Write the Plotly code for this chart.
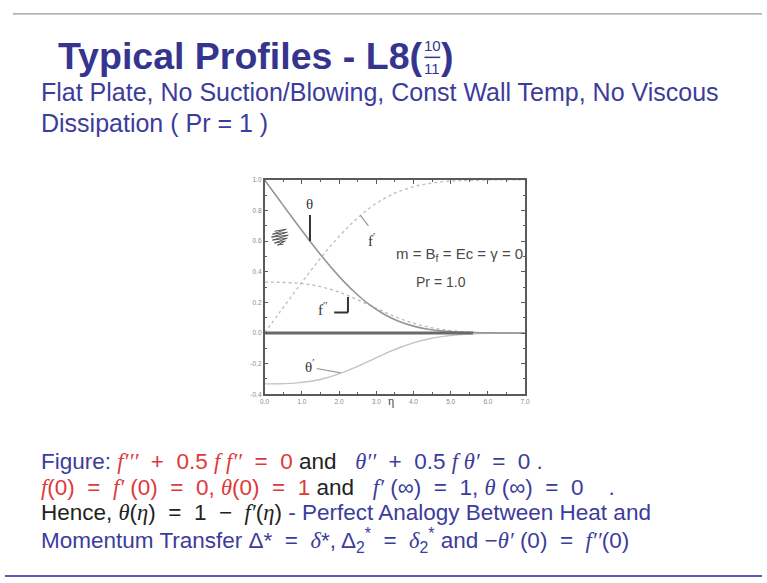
import plotly.graph_objects as go

# Similarity coordinate and the flat-plate profiles
eta = [0.0, 0.4, 0.8, 1.2, 1.6, 2.0, 2.4, 2.8, 3.2, 3.6, 4.0, 4.4, 4.8, 5.2, 5.6, 6.0, 6.4, 6.8, 7.0]
theta = [1.0, 0.867, 0.735, 0.606, 0.483, 0.370, 0.271, 0.188, 0.124, 0.077, 0.045, 0.024, 0.012, 0.006, 0.003, 0.001, 0.0, 0.0, 0.0]
f_prime = [0.0, 0.133, 0.265, 0.394, 0.517, 0.630, 0.729, 0.812, 0.876, 0.923, 0.955, 0.976, 0.988, 0.994, 0.997, 0.999, 1.0, 1.0, 1.0]
f_dprime = [0.332, 0.331, 0.327, 0.317, 0.297, 0.267, 0.228, 0.184, 0.139, 0.098, 0.064, 0.039, 0.022, 0.011, 0.005, 0.002, 0.001, 0.0, 0.0]
theta_prime = [-0.332, -0.331, -0.327, -0.317, -0.297, -0.267, -0.228, -0.184, -0.139, -0.098, -0.064, -0.039, -0.022, -0.011, -0.005, -0.002, -0.001, 0.0, 0.0]

# Zero baseline: heavy part where the curves converge, light part beyond
base_heavy_x = [0.0, 5.6]
base_light_x = [5.6, 7.0]
base_y = [0.0, 0.0]

x_ticks = [0, 1, 2, 3, 4, 5, 6, 7]
x_tick_text = ["0.0", "1.0", "2.0", "3.0", "4.0", "5.0", "6.0", "7.0"]
y_ticks = [-0.4, -0.2, 0.0, 0.2, 0.4, 0.6, 0.8, 1.0]
y_tick_text = ["-0.4", "-0.2", "0.0", "0.2", "0.4", "0.6", "0.8", "1.0"]

W, H = 767, 583
NAVY = "#35358f"
BLUE = "#3c3c9c"
RED = "#e0383a"
DARK = "#222222"

fig = go.Figure()
fig.add_trace(go.Scatter(x=base_light_x, y=base_y, mode="lines",
                         line=dict(color="#b4b4b4", width=1.6), hoverinfo="skip"))
fig.add_trace(go.Scatter(x=eta, y=f_prime, mode="lines", line_shape="spline",
                         line=dict(color="#bdbdbd", width=1.3, dash="dot")))
fig.add_trace(go.Scatter(x=eta, y=f_dprime, mode="lines", line_shape="spline",
                         line=dict(color="#b8b8b8", width=1.3, dash="dot")))
fig.add_trace(go.Scatter(x=eta, y=theta_prime, mode="lines", line_shape="spline",
                         line=dict(color="#c4c4c4", width=1.4)))
fig.add_trace(go.Scatter(x=eta, y=theta, mode="lines", line_shape="spline",
                         line=dict(color="#959595", width=1.6)))
fig.add_trace(go.Scatter(x=base_heavy_x, y=base_y, mode="lines",
                         line=dict(color="#6a6a6a", width=3), hoverinfo="skip"))

x0p, x1p = 263 / W, 527 / W
y1p, y0p = 1 - 178 / H, 1 - 395 / H

axis_common = dict(showgrid=False, zeroline=False, showline=True, linecolor="#5a5a5a",
                   linewidth=1.5, mirror="allticks", ticks="inside", ticklen=4,
                   tickcolor="#5a5a5a", tickwidth=1,
                   tickfont=dict(family="Liberation Sans", size=6.5, color="#8a8a8a"))

fig.update_layout(
    width=W, height=H, margin=dict(l=0, r=0, t=0, b=0),
    paper_bgcolor="white", plot_bgcolor="white", showlegend=False,
    xaxis=dict(domain=[x0p, x1p], range=[0, 7], tickvals=x_ticks, ticktext=x_tick_text,
               minor=dict(dtick=0.5, ticks="inside", ticklen=2.5, tickcolor="#5a5a5a"),
               **axis_common),
    yaxis=dict(domain=[y0p, y1p], range=[-0.4, 1.0], tickvals=y_ticks, ticktext=y_tick_text,
               minor=dict(dtick=0.1, ticks="inside", ticklen=2.5, tickcolor="#5a5a5a"),
               **axis_common),
)

SERIF = "Liberation Serif"
SANS = "Liberation Sans"
NB = "\u00a0"

def data_label(x, y, text, size=14, family=SERIF, color="#333", **kw):
    fig.add_annotation(x=x, y=y, xref="x", yref="y", text=text, showarrow=False,
                       font=dict(family=family, size=size, color=color), **kw)

def data_line(xa, ya, xb, yb, color="#444", width=2):
    fig.add_shape(type="line", xref="x", yref="y", x0=xa, y0=ya, x1=xb, y1=yb,
                  line=dict(color=color, width=width))

# Curve labels and pointers
data_label(1.2, 0.845, "θ", size=15)
data_line(1.22, 0.77, 1.22, 0.60, color="#333", width=2)
data_label(2.86, 0.61, "f<sup>′</sup>", size=15)
data_line(2.57, 0.77, 2.79, 0.70, color="#999", width=1.2)
data_label(1.58, 0.16, "f<sup>′′</sup>", size=15)
data_line(2.24, 0.235, 2.24, 0.134, color="#333", width=2)
data_line(1.87, 0.134, 2.24, 0.134, color="#333", width=2)
data_label(1.2, -0.215, "θ<sup>′</sup>", size=15)
data_line(1.40, -0.232, 2.04, -0.26, color="#999", width=1.2)
data_label(7.0, 0.51, "m = B<sub>f</sub> = Ec = γ = 0", size=15, family=SANS,
           color="#4a4a4a", xanchor="right")
data_label(4.75, 0.33, "Pr = 1.0", size=14, family=SANS, color="#4a4a4a")

# Small pen scribble near the θ label
fig.add_shape(type="path", xref="paper", yref="paper",
              path=" ".join(
                  (("M" if i == 0 else "L") + f" {px / W:.5f},{1 - py / H:.5f}")
                  for i, (px, py) in enumerate([(273, 230), (285, 228), (271, 233), (286, 231),
                                                 (270, 236), (287, 234), (271, 239), (286, 237),
                                                 (273, 242), (284, 240), (276, 244), (282, 243)])),
              line=dict(color="#555", width=1.0))

# Axis title
fig.add_annotation(x=391 / W, y=1 - 411 / H, xref="paper", yref="paper", text="η",
                   showarrow=False, font=dict(family=SERIF, size=12, color="#444"))

def page_text(px, py, text, size, color=BLUE, family=SANS, xanchor="left"):
    fig.add_annotation(x=px / W, y=1 - py / H, xref="paper", yref="paper", text=text,
                       showarrow=False, xanchor=xanchor, yanchor="middle", align="left",
                       font=dict(family=family, size=size, color=color))

# Slide heading
page_text(52, 53, "<b>Typical Profiles - L8(</b>", 37.5, color=NAVY)
page_text(433, 42, "10", 15, color=NAVY, xanchor="center")
page_text(433, 65, "11", 15, color=NAVY, xanchor="center")
page_text(440, 53, "<b>)</b>", 37.5, color=NAVY)
fig.add_shape(type="line", xref="paper", yref="paper", x0=425 / W, x1=441 / W,
              y0=1 - 54 / H, y1=1 - 54 / H, line=dict(color=NAVY, width=1.5))

page_text(34, 89, "Flat Plate, No Suction/Blowing, Const Wall Temp, No Viscous", 25)
page_text(34, 120, "Dissipation ( Pr = 1 )", 25)

def m(s):
    return f"<span style='font-family:{SERIF}'><i>{s}</i></span>"

def c(s, col):
    return f"<span style='color:{col}'>{s}</span>"

def op(s):
    # operator with wide math spacing
    return NB * 2 + s + NB * 2

P1, P2, P3 = "′", "′′", "′′′"

line1 = (c("Figure: ", BLUE)
         + c(m("f" + P3) + op("+") + "0.5" + NB + m("f" + NB + "f" + P2) + op("=") + "0", RED)
         + c(" and" + NB * 3, DARK)
         + c(m("θ" + P2) + op("+") + "0.5" + NB + m("f" + NB + "θ" + P1) + op("=") + "0" + NB + ".", BLUE))
line2 = (c(m("f") + "(0)" + op("=") + m("f" + P1) + NB + "(0)" + op("=") + "0, "
           + m("θ") + "(0)" + op("=") + "1", RED)
         + c(" and" + NB * 3, DARK)
         + c(m("f" + P1) + NB + "(∞)" + op("=") + "1, " + m("θ") + NB + "(∞)"
             + op("=") + "0" + NB * 4 + ".", BLUE))
line3 = (c("Hence, " + m("θ") + "(" + m("η") + ")" + op("=") + "1" + op("−") + m("f" + P1)
           + "(" + m("η") + ")", DARK)
         + c(" - Perfect Analogy Between Heat and", BLUE))
line4 = c("Momentum Transfer Δ*" + op("=") + m("δ") + "*, Δ<sub>2</sub><sup>*</sup>"
          + op("=") + m("δ") + "<sub>2</sub><sup>*</sup> and −" + m("θ" + P1) + NB + "(0)"
          + op("=") + m("f" + P2) + "(0)", BLUE)

page_text(34, 463, line1, 22.5)
page_text(34, 489, line2, 22.5)
page_text(34, 515, line3, 22.5)
page_text(34, 543, line4, 22.5)

# Slide frame rules
fig.add_shape(type="line", xref="paper", yref="paper", x0=8 / W, x1=1, y0=1 - 10 / H, y1=1 - 10 / H,
              line=dict(color="#9a9a9a", width=1.2))
fig.add_shape(type="line", xref="paper", yref="paper", x0=0, x1=1, y0=1 - 579 / H, y1=1 - 579 / H,
              line=dict(color="#5a5ac0", width=2))

fig.write_html("out.html")
